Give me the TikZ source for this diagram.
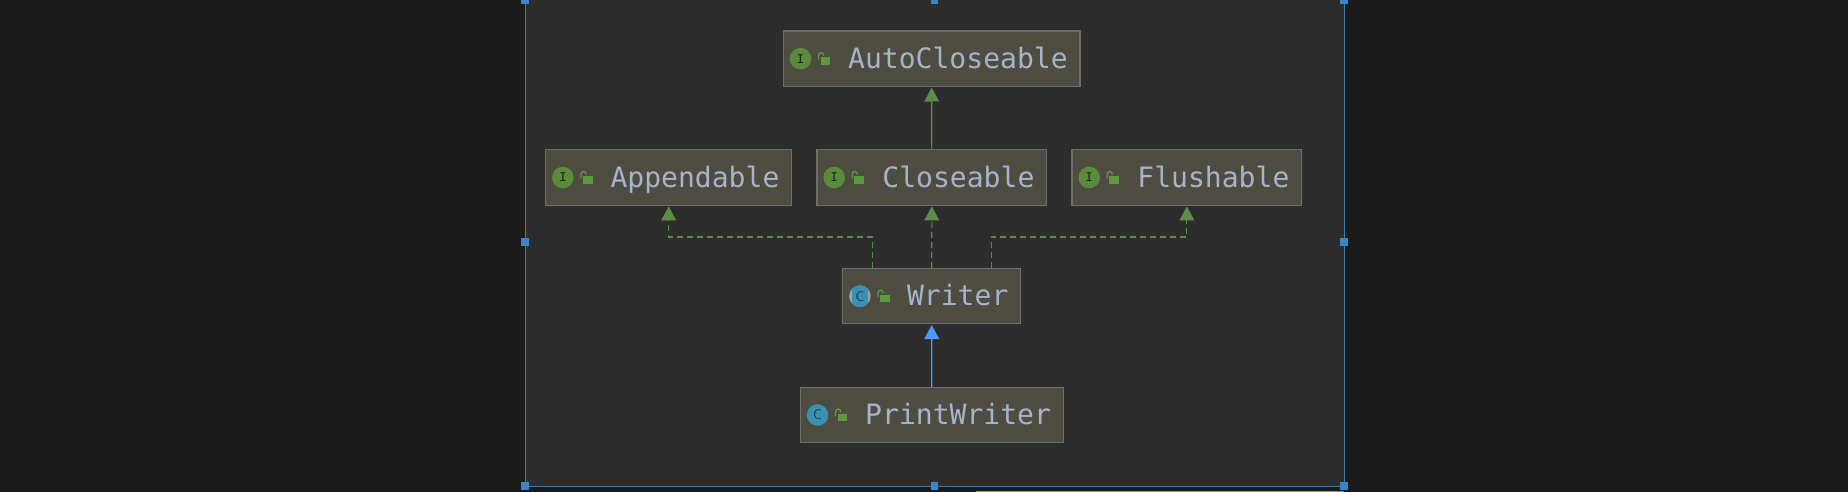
\documentclass[tikz,border=0pt]{standalone}
\usepackage{fontspec}
\setmonofont{DejaVu Sans Mono}
\usetikzlibrary{arrows.meta}
\definecolor{outerbg}{HTML}{1A1A1A}
\definecolor{innerbg}{HTML}{2C2C2C}
\definecolor{boxfill}{HTML}{4E4B41}
\definecolor{boxline}{HTML}{6E6E6A}
\definecolor{labeltxt}{HTML}{A6B5CA}
\definecolor{igreen}{HTML}{5A8A3C}
\definecolor{lockgreen}{HTML}{5B9A3E}
\definecolor{linegreen}{HTML}{5E8C48}
\definecolor{lineblue}{HTML}{4A9BFF}
\definecolor{cblue}{HTML}{3A8FB2}
\definecolor{cgrey}{HTML}{A0A09C}
\definecolor{selblue}{HTML}{3A86C8}
\definecolor{framebl}{HTML}{3A7DB2}
\definecolor{strip}{HTML}{D8764C}
\tikzset{
  classbox/.style={draw=boxline,fill=boxfill,line width=1.2pt,inner xsep=12.3pt,inner ysep=0pt,
    minimum height=55.3pt,align=right,text=labeltxt,text height=24pt,text depth=4.8pt,
    font=\ttfamily\fontsize{28.05}{30}\selectfont},
  handle/.style={fill=selblue,draw=none,minimum size=7.4pt,inner sep=0pt,rectangle},
  solidgreen/.style={draw=linegreen,line width=1.2pt,-{Triangle[length=14pt,width=14.7pt,fill=linegreen]},shorten >=0.6pt},
  dashgreen/.style={draw=linegreen,line width=1.1pt,dash pattern=on 6pt off 4pt,-{Triangle[length=14pt,width=14.7pt,fill=linegreen]},shorten >=0.6pt},
  solidblue/.style={draw=lineblue,line width=1.3pt,-{Triangle[length=14pt,width=14.7pt,fill=lineblue]},shorten >=0.6pt},
}
\newcommand{\classbox}[4]{%
  \pgfmathsetmacro{\mytw}{#3-24.6}%
  \node[classbox,text width=\mytw pt,minimum width=#3pt] (#1) at #2 {#4};}
\newcommand{\lockicon}{%
  \fill[lockgreen] (38,-1.2) rectangle (47.6,6.2);
  \draw[lockgreen,line width=1.3pt] (35.8,1) -- (35.8,-3) .. controls (35.8,-7) and (41,-7) .. (41,-3);}
\newcommand{\ifaceicon}[1]{%
  \begin{scope}[shift={(#1.west)}]
    \fill[igreen] (17.8,0) circle (10.8pt);
    \node[inner sep=0pt,text=black!75!igreen,font=\ttfamily\fontsize{12}{12}\selectfont] (#1-i) at (17.8,0) {I};
    \lockicon
  \end{scope}}
\newcommand{\classicon}[1]{%
  \begin{scope}[shift={(#1.west)}]
    \fill[cblue] (17.8,0) circle (10.8pt);
    \node[inner sep=0pt,text=black!60!cblue,font=\sffamily\fontsize{14}{14}\selectfont] (#1-c) at (17.8,0) {C};
    \lockicon
  \end{scope}}
\newcommand{\abstracticon}[1]{%
  \begin{scope}[shift={(#1.west)}]
    \fill[cgrey] (17.8,0) circle (10.8pt);
    \begin{scope}
      \clip (17.8,0) circle (10.8pt);
      \fill[cblue] (10,-11) rectangle (25.6,11);
    \end{scope}
    \node[inner sep=0pt,text=black!60!cblue,font=\sffamily\fontsize{14}{14}\selectfont] (#1-c) at (17.8,0) {C};
    \lockicon
  \end{scope}}
\begin{document}
\begin{tikzpicture}[x=1pt,y=-1pt]
\useasboundingbox (0,0) rectangle (1848,492);
\clip (0,0) rectangle (1848,492);
\fill[outerbg] (0,0) rectangle (1848,492);
\fill[innerbg] (525,0) rectangle (1344,486);
\fill[strip] (976,490.6) rectangle (1344,492);
\draw[framebl,line width=0.9pt] (525,-2) -- (525,486) -- (1344,486) -- (1344,-2);
\node[handle] (h1) at (525,0) {};
\node[handle] (h2) at (934.5,0) {};
\node[handle] (h3) at (1344,0) {};
\node[handle] (h4) at (525,242) {};
\node[handle] (h5) at (1344,242) {};
\node[handle] (h6) at (525,486) {};
\node[handle] (h7) at (934.5,486) {};
\node[handle] (h8) at (1344,486) {};

\classbox{auto}{(931.65,58.65)}{296.7}{AutoCloseable}
\classbox{close}{(931.85,177.5)}{229.7}{Closeable}
\classbox{app}{(668.7,177.5)}{246}{Appendable}
\classbox{flush}{(1186.85,177.5)}{229.7}{Flushable}
\classbox{writer}{(931.7,296.2)}{178}{Writer}
\classbox{print}{(931.8,415)}{263}{PrintWriter}

\ifaceicon{auto}
\ifaceicon{close}
\ifaceicon{app}
\ifaceicon{flush}
\abstracticon{writer}
\classicon{print}

\coordinate (wa) at ([xshift=-59.5pt]writer.north);
\coordinate (wf) at ([xshift=59.5pt]writer.north);
\draw[solidgreen] (close.north) -- (auto.south);
\draw[dashgreen] (writer.north) -- (close.south);
\draw[dashgreen] (wa) -- ++(0,-31) -| (app.south);
\draw[dashgreen] (wf) -- ++(0,-31) -| (flush.south);
\draw[solidblue] (print.north) -- (writer.south);
\end{tikzpicture}
\end{document}
